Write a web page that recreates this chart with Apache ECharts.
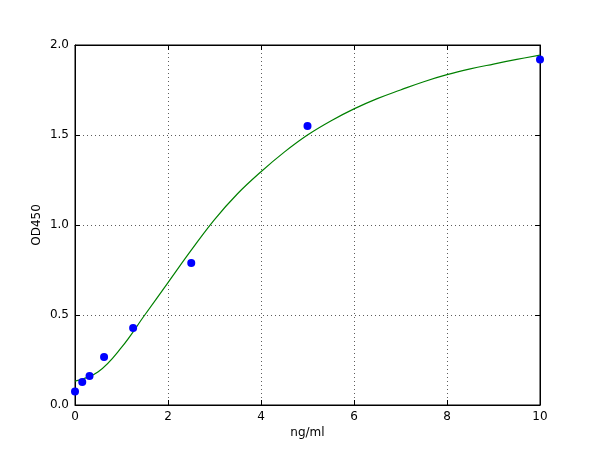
<!DOCTYPE html>
<html>
<head>
<meta charset="utf-8">
<script src="https://cdn.jsdelivr.net/npm/echarts@6/dist/echarts.min.js"></script>
<style>html,body{margin:0;padding:0;background:#fff}#c{width:600px;height:450px}</style>
</head>
<body>
<div id="c"></div>
<script>
// Measured standards
const concentrations = [0, 0.156, 0.3125, 0.625, 1.25, 2.5, 5, 10];
const odValues = [0.075, 0.128, 0.161, 0.267, 0.428, 0.789, 1.55, 1.92];
// Fitted curve
const curveX = [0, 0.5, 1, 1.5, 2, 2.5, 3, 3.5, 4, 4.5, 5, 5.5, 6, 6.5, 7, 7.5, 8, 8.5, 9, 9.5, 10];
const curveY = [0.133, 0.185, 0.32, 0.50, 0.68, 0.86, 1.03, 1.175, 1.296, 1.405, 1.50, 1.578, 1.645, 1.702, 1.75, 1.796, 1.835, 1.867, 1.894, 1.92, 1.944];
const xTicks = [0, 2, 4, 6, 8, 10];
const yTicks = [0.0, 0.5, 1.0, 1.5, 2.0];

const font = 'DejaVu Sans';
const chart = echarts.init(document.getElementById('c'), null, {renderer: 'canvas'});
const gridLine = {show: true, lineStyle: {color: '#000', type: [1, 3], width: 0.8, opacity: 0.8}};
const axisLine = {show: true, onZero: false, lineStyle: {color: '#000', width: 1}};
const tick = {show: true, inside: true, length: 5, lineStyle: {color: '#000'}};

chart.setOption({
  animation: false,
  backgroundColor: '#fff',
  grid: {left: 75, right: 60, top: 45, bottom: 45, show: true, borderColor: '#000', borderWidth: 1},
  xAxis: [{
    type: 'value', min: xTicks[0], max: xTicks[xTicks.length - 1], interval: 2,
    name: 'ng/ml', nameLocation: 'middle', nameGap: 22, nameMoveOverlap: false,
    nameTextStyle: {fontFamily: font, fontSize: 12, color: '#000'},
    axisLine: axisLine, axisTick: tick,
    axisLabel: {fontFamily: font, fontSize: 12, color: '#000', margin: 6},
    splitLine: gridLine
  }, {
    type: 'value', position: 'top', min: xTicks[0], max: xTicks[xTicks.length - 1], interval: 2,
    axisLine: axisLine, axisTick: tick, axisLabel: {show: false}, splitLine: {show: false}
  }],
  yAxis: [{
    type: 'value', min: yTicks[0], max: yTicks[yTicks.length - 1], interval: 0.5,
    name: 'OD450', nameLocation: 'middle', nameGap: 32, nameRotate: 90, nameMoveOverlap: false,
    nameTextStyle: {fontFamily: font, fontSize: 12, color: '#000'},
    axisLine: axisLine, axisTick: tick,
    axisLabel: {fontFamily: font, fontSize: 12, color: '#000', margin: 6, formatter: v => v.toFixed(1)},
    splitLine: gridLine
  }, {
    type: 'value', position: 'right', min: yTicks[0], max: yTicks[yTicks.length - 1], interval: 0.5,
    axisLine: axisLine, axisTick: tick, axisLabel: {show: false}, splitLine: {show: false}
  }],
  series: [{
    type: 'line',
    data: curveX.map((x, i) => [x, curveY[i]]),
    smooth: 0.4, showSymbol: false, symbol: 'none',
    lineStyle: {color: '#008000', width: 1.2},
    z: 2
  }, {
    type: 'scatter',
    data: concentrations.map((x, i) => [x, odValues[i]]),
    symbol: 'circle', symbolSize: 8,
    itemStyle: {color: '#0000ff', borderWidth: 0, opacity: 1},
    clip: false,
    z: 3
  }]
});
</script>
</body>
</html>
